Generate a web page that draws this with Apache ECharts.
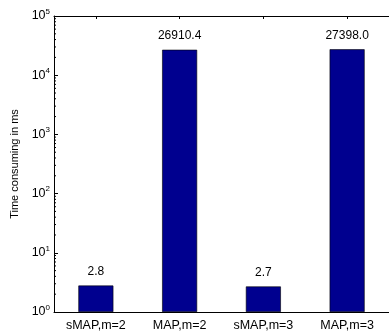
<!DOCTYPE html>
<html><head><meta charset="utf-8">
<script src="https://cdn.jsdelivr.net/npm/echarts@6/dist/echarts.min.js"></script>
<style>html,body{margin:0;padding:0;background:#fff}#c{width:389px;height:332px}</style>
</head><body><div id="c"></div>
<script>
var categories = ['sMAP,m=2', 'MAP,m=2', 'sMAP,m=3', 'MAP,m=3'];
var values = [2.8, 26910.4, 2.7, 27398.0];
var valueLabels = ['2.8', '26910.4', '2.7', '27398.0'];
var yMin = 1, yMax = 100000;
var minorTicks = [];
for (var e = 0; e < 5; e++) for (var k = 2; k <= 9; k++) minorTicks.push(k * Math.pow(10, e));

var FONT = 'Liberation Sans, Arial, Helvetica, sans-serif';
var chart = echarts.init(document.getElementById('c'));
chart.setOption({
  animation: false,
  grid: {left: 54, top: 16, right: -5, bottom: 19, containLabel: false},
  xAxis: [{
    type: 'category', data: categories, position: 'bottom',
    axisLine: {lineStyle: {color: '#000', width: 1}},
    axisTick: {show: false},
    axisLabel: {color: '#000', fontFamily: FONT, fontSize: 12.5, margin: 7}
  }, {
    type: 'category', data: categories, position: 'top',
    axisLine: {lineStyle: {color: '#000', width: 1}},
    axisTick: {show: true, inside: true, length: 3, alignWithLabel: true, lineStyle: {color: '#000'}},
    axisLabel: {show: false}
  }],
  yAxis: {
    type: 'log', logBase: 10, min: yMin, max: yMax,
    name: 'Time consuming in ms', nameLocation: 'middle', nameGap: 33,
    nameTextStyle: {color: '#000', fontFamily: FONT, fontSize: 11},
    axisLine: {show: true, lineStyle: {color: '#000', width: 1}},
    axisTick: {show: true, inside: true, length: 4, lineStyle: {color: '#000'}},
    splitLine: {show: false},
    axisLabel: {
      color: '#000', margin: 4,
      formatter: function (v) { return '{b|10}{s|' + Math.round(Math.log10(v)) + '}'; },
      rich: {
        b: {fontFamily: FONT, fontSize: 12.5, color: '#000'},
        s: {fontFamily: FONT, fontSize: 8, color: '#000', padding: [0, 0, 9, 0]}
      }
    }
  },
  series: [{
    type: 'bar', data: values, barWidth: 35,
    itemStyle: {color: '#00008f', borderColor: '#000', borderWidth: 0.6},
    label: {
      show: true, position: 'top', distance: 8, color: '#000', fontFamily: FONT, fontSize: 12,
      formatter: function (p) { return valueLabels[p.dataIndex]; }
    }
  }, {
    type: 'custom', silent: true, clip: false,
    data: minorTicks.map(function (v) { return [0, v]; }),
    renderItem: function (params, api) {
      var y = api.coord([0, api.value(1)])[1];
      var x = params.coordSys.x;
      return {type: 'line', shape: {x1: x, y1: y, x2: x + 2, y2: y}, style: {stroke: '#000', lineWidth: 1}};
    }
  }]
});
</script></body></html>
